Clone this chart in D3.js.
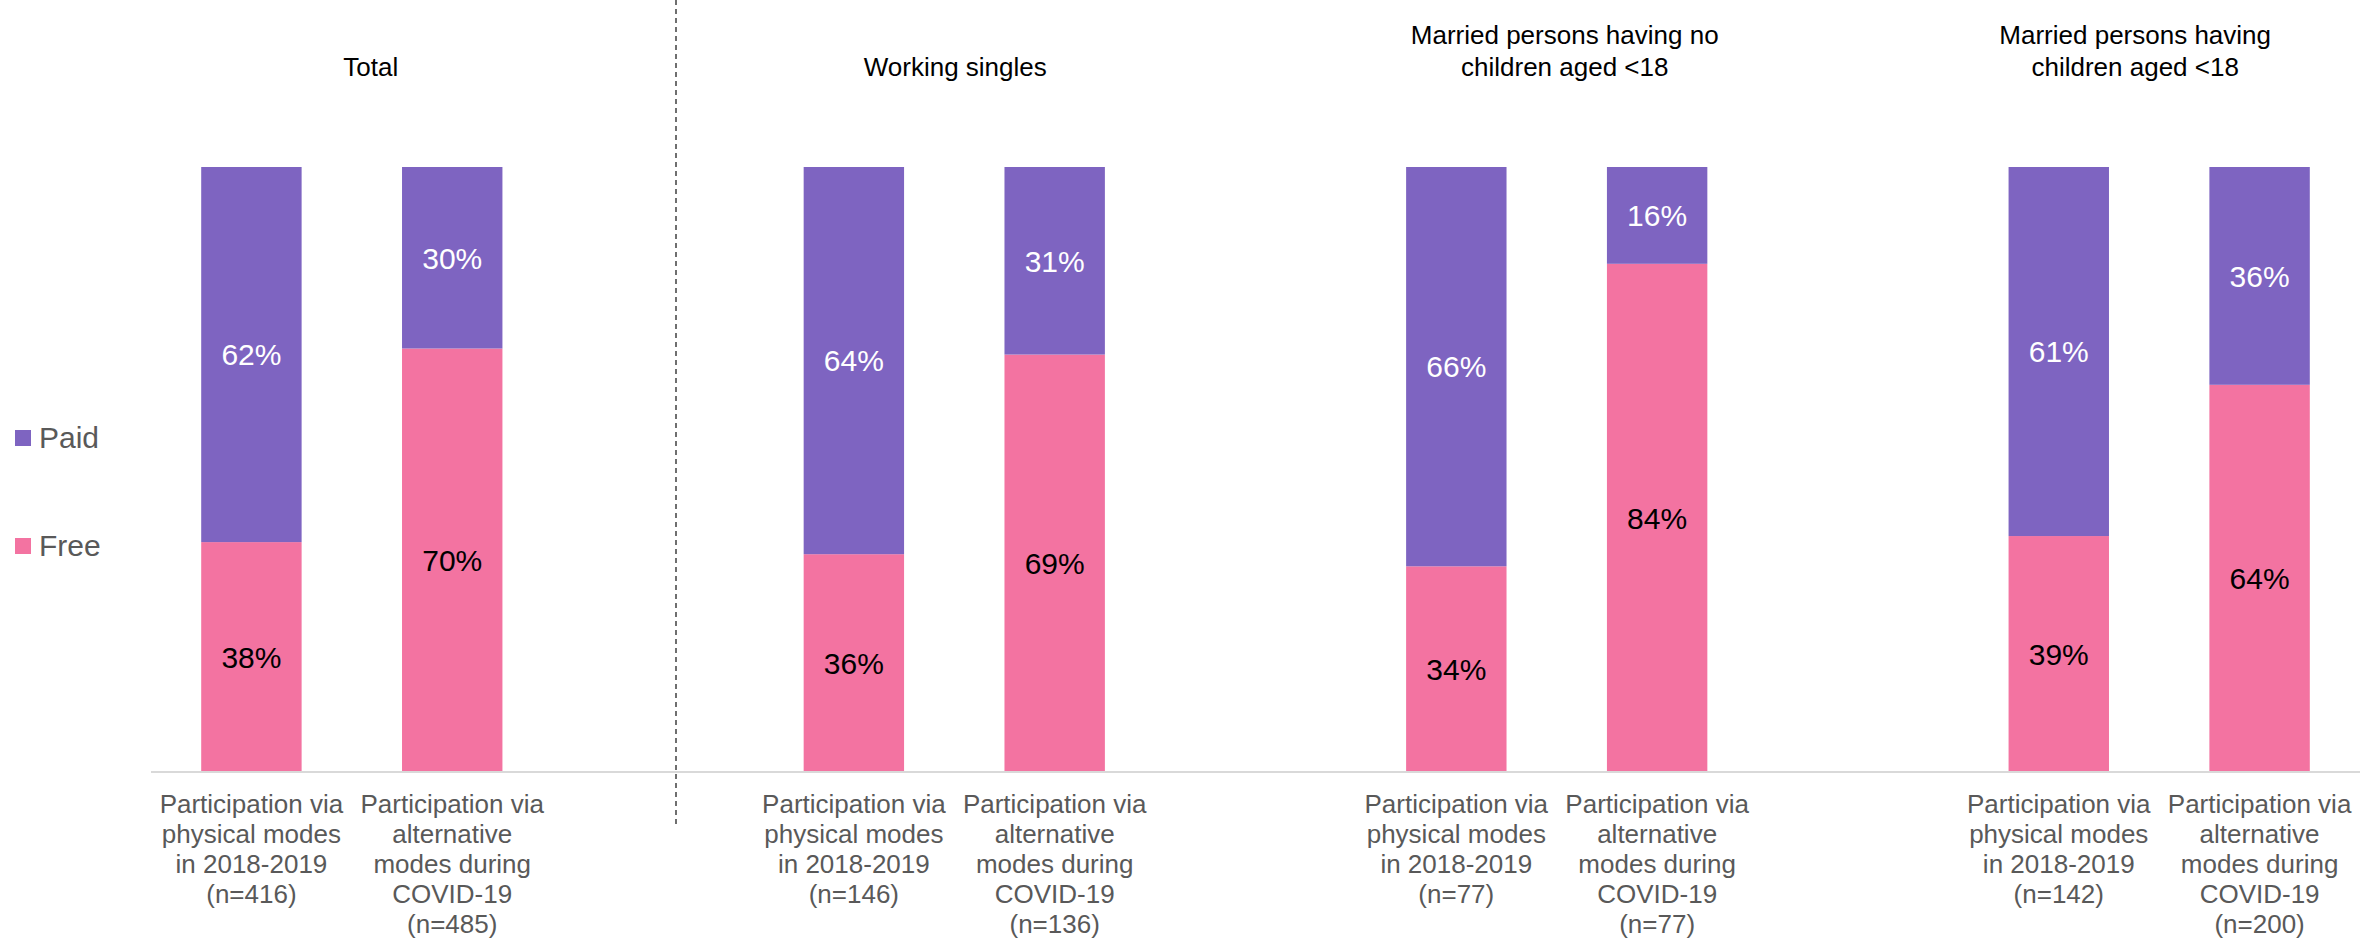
<!DOCTYPE html>
<html>
<head>
<meta charset="utf-8">
<script src="https://cdn.jsdelivr.net/npm/d3@7"></script>
<style>
  body { margin: 0; background: #fff; }
  svg  { display: block; font-family: "Liberation Sans", Arial, sans-serif; }
</style>
</head>
<body>
<svg width="2377" height="941"></svg>
<script>
// data
const groups = [
  ["Total"],
  ["Working singles"],
  ["Married persons having no", "children aged <18"],
  ["Married persons having", "children aged <18"]
];
const physicalLabel = ["Participation via", "physical modes", "in 2018-2019"];
const altLabel      = ["Participation via", "alternative", "modes during", "COVID-19"];
const sampleSizes   = [[416, 485], [146, 136], [77, 77], [142, 200]];
const paidValues    = [[62, 30], [64, 31], [66, 16], [61, 36]];
const freeValues    = [[38, 70], [36, 69], [34, 84], [39, 64]];
const seriesNames   = ["Paid", "Free"];

// layout
const svgEl  = d3.select("svg");
const colors = { Paid: "#7e64c1", Free: "#f373a1" };
const titleDx = [19, 1, 8, -24];

// slots: two bars per group, an empty slot between groups
const slots = [];
groups.forEach((g, gi) => {
  slots.push(gi + "-0", gi + "-1");
  if (gi < groups.length - 1) slots.push(gi + "-gap");
});

const x = d3.scaleBand()
  .domain(slots)
  .range([151, 2360])
  .paddingInner(0.5)
  .paddingOuter(0.25);

const y = d3.scaleLinear()
  .domain([0, 100])
  .range([772, 167]);

// bar records
const bars = [];
groups.forEach((g, gi) => {
  [0, 1].forEach(k => {
    const free = freeValues[gi][k];
    const paid = paidValues[gi][k];
    bars.push({ key: gi + "-" + k, series: "Free", y0: 0, y1: free, v: free });
    bars.push({ key: gi + "-" + k, series: "Paid", y0: free, y1: free + paid, v: paid });
  });
});

svgEl.append("g")
  .selectAll("rect")
  .data(bars)
  .join("rect")
  .attr("x", d => x(d.key))
  .attr("width", x.bandwidth())
  .attr("y", d => y(d.y1))
  .attr("height", d => y(d.y0) - y(d.y1))
  .attr("fill", d => colors[d.series]);

svgEl.append("g")
  .selectAll("text")
  .data(bars)
  .join("text")
  .attr("x", d => x(d.key) + x.bandwidth() / 2)
  .attr("y", d => (y(d.y0) + y(d.y1)) / 2)
  .attr("dy", "0.36em")
  .attr("text-anchor", "middle")
  .attr("font-size", 30)
  .attr("fill", d => d.series === "Paid" ? "#ffffff" : "#000000")
  .text(d => d.v + "%");

// baseline
svgEl.append("line")
  .attr("x1", x.range()[0]).attr("x2", x.range()[1])
  .attr("y1", y(0)).attr("y2", y(0))
  .attr("stroke", "#d9d9d9")
  .attr("stroke-width", 2);

// category labels
groups.forEach((g, gi) => {
  [0, 1].forEach(k => {
    const lines = (k === 0 ? physicalLabel : altLabel).concat(["(n=" + sampleSizes[gi][k] + ")"]);
    const cx = x(gi + "-" + k) + x.bandwidth() / 2;
    svgEl.append("text")
      .attr("text-anchor", "middle")
      .attr("font-size", 26)
      .attr("fill", "#595959")
      .selectAll("tspan")
      .data(lines)
      .join("tspan")
      .attr("x", cx)
      .attr("y", (d, i) => 813 + i * 30)
      .text(d => d);
  });
});

// group titles
groups.forEach((g, gi) => {
  const cx = (x(gi + "-0") + x(gi + "-1") + x.bandwidth()) / 2 + titleDx[gi];
  svgEl.append("text")
    .attr("text-anchor", "middle")
    .attr("font-size", 26)
    .attr("fill", "#000")
    .selectAll("tspan")
    .data(g)
    .join("tspan")
    .attr("x", cx)
    .attr("y", (d, i) => 76 - (g.length - 1 - i) * 32)
    .text(d => d);
});

// divider after the Total group
svgEl.append("line")
  .attr("x1", 676).attr("x2", 676)
  .attr("y1", 0).attr("y2", 827)
  .attr("stroke", "#404040")
  .attr("stroke-width", 1.5)
  .attr("stroke-dasharray", "5,4");

// legend
const legend = svgEl.append("g")
  .selectAll("g")
  .data(seriesNames)
  .join("g")
  .attr("transform", (d, i) => `translate(15,${430 + i * 108})`);

legend.append("rect")
  .attr("width", 16).attr("height", 16)
  .attr("fill", d => colors[d]);

legend.append("text")
  .attr("x", 24)
  .attr("y", 18)
  .attr("font-size", 30)
  .attr("fill", "#595959")
  .text(d => d);
</script>
</body>
</html>
